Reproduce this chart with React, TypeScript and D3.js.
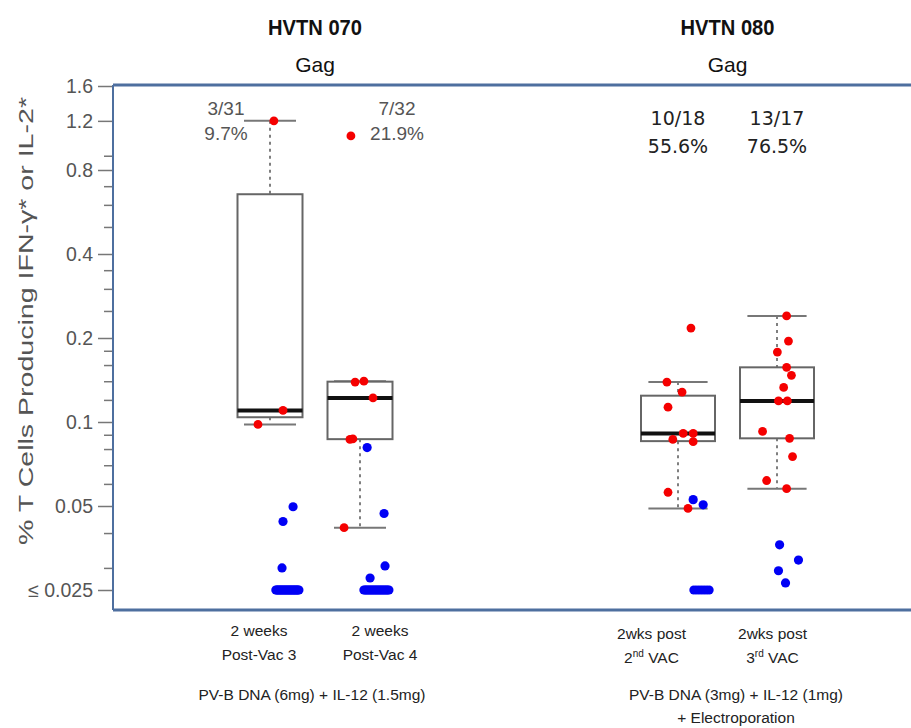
import React, { useEffect, useRef } from "react";
import * as d3 from "d3";

// studies and groups
const studyTitles = ["HVTN 070", "HVTN 080"];
const antigens = ["Gag", "Gag"];
const groupIds = ["070-PV3", "070-PV4", "080-V2", "080-V3"];
const groupStudy = ["HVTN 070", "HVTN 070", "HVTN 080", "HVTN 080"];
const responders = ["3/31", "7/32", "10/18", "13/17"];
const responseRates = ["9.7%", "21.9%", "55.6%", "76.5%"];
const timeLabels = [
  ["2 weeks", "Post-Vac 3"],
  ["2 weeks", "Post-Vac 4"],
  ["2wks post", "2nd VAC"],
  ["2wks post", "3rd VAC"],
];
const regimens = [
  ["PV-B DNA (6mg) + IL-12 (1.5mg)"],
  ["PV-B DNA (3mg) + IL-12 (1mg)", "+ Electroporation"],
];

// [value, jitter] ; jitter is in half-box widths
const pos070v3 = [[1.2, 0.12], [0.11, 0.4], [0.098, -0.37]];
const pos070v4 = [[1.06, -0.28], [0.139, -0.15], [0.14, 0.12], [0.122, 0.4], [0.0866, -0.31], [0.087, -0.22], [0.0418, -0.49]];
const pos080v2 = [[0.217, 0.35], [0.139, -0.3], [0.128, 0.11], [0.113, -0.27], [0.091, 0.14], [0.091, 0.41], [0.0866, -0.14], [0.085, 0.41], [0.056, -0.27], [0.049, 0.27]];
const pos080v3 = [[0.24, 0.26], [0.195, 0.31], [0.178, 0.01], [0.157, 0.26], [0.147, 0.39], [0.133, 0.18], [0.119, 0.04], [0.119, 0.28], [0.0925, -0.39], [0.0874, 0.34], [0.0752, 0.42], [0.0617, -0.28], [0.0577, 0.26]];

const neg070v3 = [[0.0497, 0.71], [0.044, 0.4], [0.03, 0.37]];
const neg070v4 = [[0.081, 0.22], [0.047, 0.74], [0.0305, 0.77], [0.0276, 0.31]];
const neg080v2 = [[0.0527, 0.41], [0.0505, 0.68]];
const neg080v3 = [[0.0363, 0.07], [0.032, 0.58], [0.0293, 0.04], [0.0265, 0.23]];

// negatives sitting at the detection floor
const floorCounts = [25, 21, 6, 0];
const floorSpread = [[0.18, 0.89], [0.12, 0.89], [0.43, 0.84], [0, 0]];

const positives = [pos070v3, pos070v4, pos080v2, pos080v3];
const negatives = [neg070v3, neg070v4, neg080v2, neg080v3];

const majorTicks = [1.6, 1.2, 0.8, 0.4, 0.2, 0.1, 0.05, 0.025];
const majorLabels = ["1.6", "1.2", "0.8", "0.4", "0.2", "0.1", "0.05", "\u2264 0.025"];
const minorTicks = [0.9, 0.7, 0.6, 0.5, 0.35, 0.3, 0.25, 0.18, 0.16, 0.14, 0.12, 0.09, 0.08, 0.07, 0.06, 0.04, 0.03];

const FLOOR = 0.025;

const App = () => {
  const ref = useRef<SVGSVGElement>(null);

  useEffect(() => {
    const svg = d3.select(ref.current);
    svg.selectAll("*").remove();

    const top = 85, bottom = 610, left = 113, right = 911;
    const y = d3.scaleLog().base(2).domain([FLOOR, 1.6]).range([590, 86]);
    const studyX = d3.scalePoint<string>().domain(studyTitles).range([315, 727.5]);

    // each pasted panel has slightly different spacing
    const panels = [
      { spread: 45, boxW: 65, labelShift: 4.5, annShift: [-44, 37] },
      { spread: 49.5, boxW: 74, labelShift: -15.5, annShift: [0, 0] },
    ];

    const groupX = (i: number) => {
      const s = groupStudy[i];
      const p = panels[studyTitles.indexOf(s)];
      const c = studyX(s)!;
      const gs = groupIds.filter((g, k) => groupStudy[k] === s);
      const sc = d3.scalePoint<string>().domain(gs).range([c - p.spread, c + p.spread]);
      return sc(groupIds[i])!;
    };
    const panelOf = (i: number) => panels[studyTitles.indexOf(groupStudy[i])];

    // titles
    studyTitles.forEach((t, i) => {
      svg.append("text")
        .attr("x", studyX(t)).attr("y", 35)
        .attr("text-anchor", "middle")
        .attr("font-family", "'Liberation Sans', sans-serif")
        .attr("font-weight", "bold").attr("font-size", 22)
        .attr("textLength", 94).attr("lengthAdjust", "spacingAndGlyphs")
        .attr("fill", "#111")
        .text(t);
      svg.append("text")
        .attr("x", studyX(t)).attr("y", 72)
        .attr("text-anchor", "middle")
        .attr("font-family", "'Liberation Sans', sans-serif")
        .attr("font-size", 21)
        .attr("fill", "#111")
        .text(antigens[i]);
    });

    // frame
    const frame = svg.append("g").attr("stroke", "#4e6f9f").attr("fill", "none");
    frame.append("line").attr("x1", left).attr("x2", right).attr("y1", top).attr("y2", top).attr("stroke-width", 3);
    frame.append("line").attr("x1", left).attr("x2", right).attr("y1", bottom).attr("y2", bottom).attr("stroke-width", 3);
    frame.append("line").attr("x1", left).attr("x2", left).attr("y1", top).attr("y2", bottom).attr("stroke-width", 2);

    // y axis
    const axisMajor = svg.append("g")
      .attr("transform", `translate(${left - 1},0)`)
      .call(d3.axisLeft(y).tickValues(majorTicks).tickFormat((d, i) => majorLabels[i]).tickSize(14).tickPadding(5));
    axisMajor.select(".domain").remove();
    axisMajor.selectAll("line").attr("stroke", "#777").attr("stroke-width", 1.5);
    axisMajor.selectAll("text")
      .attr("font-family", "'Liberation Sans', Arial, sans-serif")
      .attr("font-size", 19.5).attr("fill", "#555");

    const axisMinor = svg.append("g")
      .attr("transform", `translate(${left - 1},0)`)
      .call(d3.axisLeft(y).tickValues(minorTicks).tickFormat(() => "").tickSize(8));
    axisMinor.select(".domain").remove();
    axisMinor.selectAll("line").attr("stroke", "#777").attr("stroke-width", 1.5);

    svg.append("text")
      .attr("transform", "translate(33,321) rotate(-90)")
      .attr("text-anchor", "middle")
      .attr("font-family", "'Liberation Sans', Arial, sans-serif")
      .attr("font-size", 20).attr("fill", "#555")
      .attr("textLength", 448).attr("lengthAdjust", "spacingAndGlyphs")
      .text("% T Cells Producing IFN-\u03b3* or IL-2*");

    // boxes
    groupIds.forEach((g, i) => {
      const p = panelOf(i);
      const cx = groupX(i);
      const vals = positives[i].map((d) => d[0]).sort(d3.ascending);
      const q1 = d3.quantile(vals, 0.25)!;
      const med = d3.quantile(vals, 0.5)!;
      const q3 = d3.quantile(vals, 0.75)!;
      const iqr = q3 - q1;
      const hi = d3.max(vals.filter((v) => v <= q3 + 1.5 * iqr))!;
      const lo = d3.min(vals.filter((v) => v >= q1 - 1.5 * iqr))!;
      const hw = p.boxW / 2;
      const cap = hw * 0.8;
      const bg = svg.append("g");

      bg.append("line").attr("x1", cx).attr("x2", cx).attr("y1", y(hi)).attr("y2", y(q3))
        .attr("stroke", "#555").attr("stroke-width", 1.5).attr("stroke-dasharray", "3,4");
      bg.append("line").attr("x1", cx).attr("x2", cx).attr("y1", y(q1)).attr("y2", y(lo))
        .attr("stroke", "#555").attr("stroke-width", 1.5).attr("stroke-dasharray", "3,4");
      [hi, lo].forEach((v) => {
        bg.append("line").attr("x1", cx - cap).attr("x2", cx + cap).attr("y1", y(v)).attr("y2", y(v))
          .attr("stroke", "#777").attr("stroke-width", 2);
      });
      bg.append("rect")
        .attr("x", cx - hw).attr("width", p.boxW)
        .attr("y", y(q3)).attr("height", y(q1) - y(q3))
        .attr("fill", "#fff").attr("stroke", "#666").attr("stroke-width", 2);
      bg.append("line").attr("x1", cx - hw).attr("x2", cx + hw).attr("y1", y(med)).attr("y2", y(med))
        .attr("stroke", "#111").attr("stroke-width", 4);
    });

    // points
    groupIds.forEach((g, i) => {
      const p = panelOf(i);
      const cx = groupX(i);
      const hw = p.boxW / 2;
      const [a, b] = floorSpread[i];
      const floorPts = d3.range(floorCounts[i]).map((k) => [
        FLOOR,
        floorCounts[i] > 1 ? a + ((b - a) * k) / (floorCounts[i] - 1) : a,
      ]);
      const blues = negatives[i].concat(floorPts);
      svg.append("g").selectAll("circle").data(blues).enter().append("circle")
        .attr("cx", (d) => cx + d[1] * hw).attr("cy", (d) => y(d[0]))
        .attr("r", 4.6).attr("fill", "#0000f5");
      svg.append("g").selectAll("circle").data(positives[i]).enter().append("circle")
        .attr("cx", (d) => cx + d[1] * hw).attr("cy", (d) => y(d[0]))
        .attr("r", 4.4).attr("fill", "#f50000");
    });

    // response annotations
    groupIds.forEach((g, i) => {
      const p = panelOf(i);
      const k = groupIds.filter((h, j) => groupStudy[j] === groupStudy[i]).indexOf(g);
      const ax = groupX(i) + p.annShift[k];
      const first = studyTitles.indexOf(groupStudy[i]) === 0;
      const t = svg.append("text")
        .attr("text-anchor", "middle")
        .attr("font-family", first ? "'Liberation Sans', Arial, sans-serif" : "'DejaVu Sans', sans-serif")
        .attr("font-size", 19)
        .attr("fill", first ? "#555" : "#222");
      t.append("tspan").attr("x", ax).attr("y", first ? 115 : 125).text(responders[i]);
      t.append("tspan").attr("x", ax).attr("y", first ? 140 : 153).text(responseRates[i]);
    });

    // x labels under the plot
    groupIds.forEach((g, i) => {
      const s = groupStudy[i];
      const p = panelOf(i);
      const k = groupIds.filter((h, j) => groupStudy[j] === s).indexOf(g);
      const c = studyX(s)! + p.labelShift;
      const lx = c + (k === 0 ? -60.5 : 60.5);
      const first = studyTitles.indexOf(s) === 0;
      timeLabels[i].forEach((line, li) => {
        const t = svg.append("text")
          .attr("x", lx).attr("y", (first ? 636 : 639) + li * 24)
          .attr("text-anchor", "middle")
          .attr("font-family", "'Liberation Sans', Arial, sans-serif")
          .attr("font-size", 15.5).attr("fill", "#222");
        const m = line.match(/^(\d)(nd|rd)(.*)$/);
        if (m) {
          t.append("tspan").text(m[1]);
          t.append("tspan").attr("font-size", 10).attr("dy", -6).text(m[2]);
          t.append("tspan").attr("dy", 6).text(m[3]);
        } else {
          t.text(line);
        }
      });
    });

    regimens.forEach((lines, si) => {
      const c = studyX(studyTitles[si])! + (si === 0 ? -3 : 8.5);
      lines.forEach((line, li) => {
        svg.append("text")
          .attr("x", c).attr("y", 700 + li * 23)
          .attr("text-anchor", "middle")
          .attr("font-family", "'Liberation Sans', Arial, sans-serif")
          .attr("font-size", 15.5).attr("fill", "#222")
          .text(line);
      });
    });
  }, []);

  return (
    <svg
      ref={ref}
      width={911}
      height={728}
      style={{ position: "absolute", left: 0, top: 0, background: "#fff" }}
    ></svg>
  );
};

export default App;
